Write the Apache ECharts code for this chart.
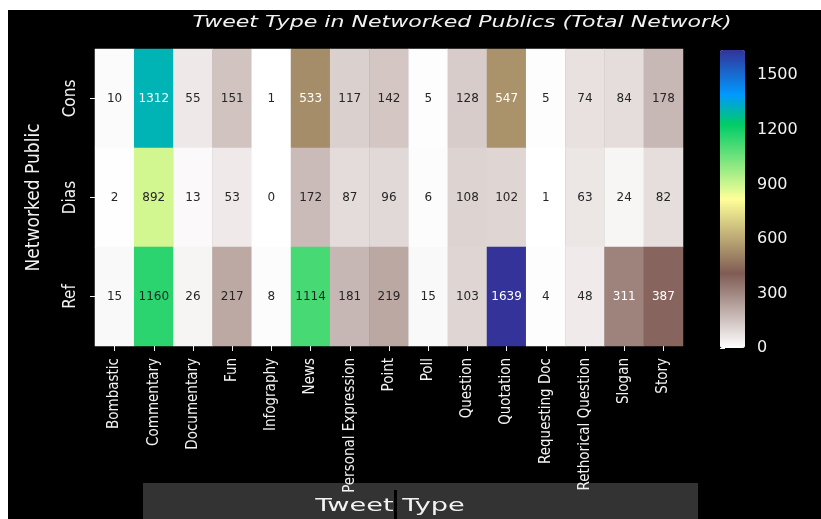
<!DOCTYPE html>
<html>
<head>
<meta charset="utf-8">
<script src="https://cdn.jsdelivr.net/npm/echarts@6/dist/echarts.min.js"></script>
<style>
html,body{margin:0;padding:0;background:#fff;}
#chart{width:821px;height:519px;}
</style>
</head>
<body>
<div id="chart"></div>
<script>
// ---- data ----
const tweetTypes = ['Bombastic','Commentary','Documentary','Fun','Infography','News','Personal Expression','Point','Poll','Question','Quotation','Requesting Doc','Rethorical Question','Slogan','Story'];
const publics = ['Cons','Dias','Ref'];
const consCounts = [10, 1312, 55, 151, 1, 533, 117, 142, 5, 128, 547, 5, 74, 84, 178];
const diasCounts = [2, 892, 13, 53, 0, 172, 87, 96, 6, 108, 102, 1, 63, 24, 82];
const refCounts  = [15, 1160, 26, 217, 8, 1114, 181, 219, 15, 103, 1639, 4, 48, 311, 387];
const colorbarTicks = [0, 300, 600, 900, 1200, 1500];
const titleText = 'Tweet Type in Networked Publics (Total Network)';
const xName = 'Tweet Type';
const yName = 'Networked Public';

const rows = [consCounts, diasCounts, refCounts];
const colorMax = Math.max(...consCounts, ...diasCounts, ...refCounts);

// terrain_r colormap
const stops = [
  [0.00, [1.0, 1.0, 1.0]],
  [0.25, [0.5, 0.36, 0.33]],
  [0.50, [1.0, 1.0, 0.6]],
  [0.75, [0.0, 0.8, 0.4]],
  [0.85, [0.0, 0.6, 1.0]],
  [1.00, [0.2, 0.2, 0.6]]
];
function cmap(t){
  t = Math.max(0, Math.min(1, t));
  for (let i = 1; i < stops.length; i++){
    if (t <= stops[i][0]){
      const a = stops[i-1], b = stops[i];
      const f = (t - a[0]) / (b[0] - a[0]);
      return a[1].map((c, k) => c + (b[1][k] - c) * f);
    }
  }
  return stops[stops.length-1][1];
}
function hex(rgb){
  return '#' + rgb.map(c => Math.round(c*255).toString(16).padStart(2,'0')).join('');
}
function lum(rgb){
  const l = rgb.map(c => c <= 0.03928 ? c/12.92 : Math.pow((c+0.055)/1.055, 2.4));
  return 0.2126*l[0] + 0.7152*l[1] + 0.0722*l[2];
}
const rampColors = [];
for (let i = 0; i <= 100; i++) rampColors.push(hex(cmap(i/100)));

const heatData = [];
rows.forEach((row, yi) => {
  row.forEach((v, xi) => {
    const c = cmap(v / colorMax);
    heatData.push({
      value: [xi, yi, v],
      label: { color: lum(c) > 0.408 ? '#262626' : '#ffffff' }
    });
  });
});

const chart = echarts.init(document.getElementById('chart'), null, {renderer: 'canvas'});
const white = '#f2f2f2';
const condensed = '"DejaVu Sans Condensed", "Liberation Sans Narrow", "DejaVu Sans"';
chart.setOption({
  backgroundColor: '#ffffff',
  animation: false,
  graphic: [
    { type: 'rect', z: -100, silent: true, shape: { x: 8, y: 10, width: 813, height: 509 }, style: { fill: '#000000' } },
    { type: 'rect', z: -90, silent: true, shape: { x: 143, y: 483, width: 555, height: 36 }, style: { fill: '#333333' } },
    { type: 'rect', z: -80, silent: true, shape: { x: 394, y: 490, width: 3, height: 29 }, style: { fill: '#000000' } },
    { type: 'text', z: 101, silent: true, x: 390, y: 507, scaleX: 1.6,
      style: { text: xName, fill: white, font: '17px "DejaVu Sans"', textAlign: 'center', textVerticalAlign: 'middle' } },
    { type: 'text', z: 101, silent: true, x: 462, y: 23, scaleX: 1.38,
      style: { text: titleText, fill: white, font: 'italic 16px "DejaVu Sans"', textAlign: 'center', textVerticalAlign: 'middle' } }
  ],
  grid: [
    { left: 95, top: 49, width: 588, height: 297 },
    { left: 720, top: 50, width: 25, height: 298 }
  ],
  xAxis: [
    {
      type: 'category', gridIndex: 0, data: tweetTypes,
      axisLine: { show: false },
      axisTick: { show: true, alignWithLabel: true, length: 5, lineStyle: { color: white } },
      axisLabel: { rotate: 90, color: white, fontSize: 15, margin: 12, fontFamily: condensed },
      splitLine: { show: false }
    },
    { type: 'value', gridIndex: 1, show: false, min: 0, max: 1 }
  ],
  yAxis: [
    {
      type: 'category', gridIndex: 0, data: publics, inverse: true,
      axisLine: { show: false },
      axisTick: { show: true, alignWithLabel: true, length: 5, lineStyle: { color: white } },
      axisLabel: { rotate: 90, color: white, fontSize: 17, margin: 16, fontFamily: condensed },
      name: yName, nameLocation: 'middle', nameRotate: 90, nameGap: 51,
      nameTextStyle: { color: white, fontSize: 19, fontFamily: condensed },
      splitLine: { show: false }
    },
    {
      type: 'value', gridIndex: 1, position: 'right', min: 0, max: colorMax,
      axisLine: { show: false },
      axisTick: { show: true, length: 5, customValues: colorbarTicks, lineStyle: { color: white } },
      axisLabel: { color: white, fontSize: 16, margin: 12, customValues: colorbarTicks,
        fontFamily: '"DejaVu Sans"', formatter: v => String(v) },
      splitLine: { show: false }
    }
  ],
  visualMap: {
    type: 'continuous', seriesIndex: 0, min: 0, max: colorMax,
    left: 720, top: 50, itemWidth: 25, itemHeight: 298, padding: 0,
    calculable: false, showLabel: false, text: null, hoverLink: false,
    inRange: { color: rampColors }
  },
  series: [{
    type: 'heatmap', xAxisIndex: 0, yAxisIndex: 0,
    data: heatData,
    label: { show: true, fontSize: 12, fontFamily: '"DejaVu Sans"' },
    itemStyle: { borderWidth: 0 },
    emphasis: { disabled: true }
  }]
});
</script>
</body>
</html>
